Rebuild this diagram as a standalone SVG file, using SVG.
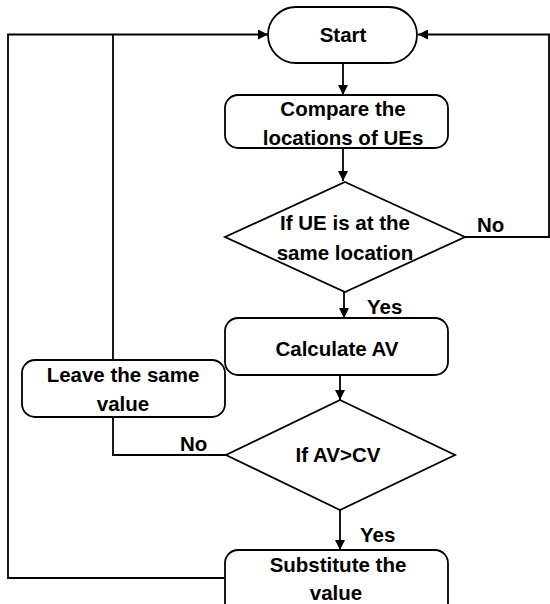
<svg xmlns="http://www.w3.org/2000/svg" width="550" height="604" viewBox="0 0 550 604">
<defs>
<marker id="arr" markerWidth="10" markerHeight="10" refX="10" refY="5" orient="auto" markerUnits="userSpaceOnUse">
<path d="M0,0 L10,5 L0,10 Z" fill="#000"/>
</marker>
<style>
.shape{fill:#fff;stroke:#000;stroke-width:1.8}
.line{fill:none;stroke:#000;stroke-width:1.8}
.t{font-family:"Liberation Sans",Arial,sans-serif;font-weight:bold;font-size:20.5px;fill:#000;text-anchor:middle}
.lbl{font-family:"Liberation Sans",Arial,sans-serif;font-weight:bold;font-size:20.5px;fill:#000}
</style>
</defs>
<rect width="550" height="604" fill="#fff"/>
<g id="connectors">
<line class="line" x1="343" y1="63" x2="343" y2="95" marker-end="url(#arr)"/>
<line class="line" x1="343" y1="148" x2="343" y2="181" marker-end="url(#arr)"/>
<line class="line" x1="344" y1="292" x2="344" y2="318" marker-end="url(#arr)"/>
<line class="line" x1="340" y1="375" x2="340" y2="400" marker-end="url(#arr)"/>
<line class="line" x1="340" y1="510" x2="340" y2="550" marker-end="url(#arr)"/>
<polyline class="line" points="465,237 549,237 549,34.5 418,34.5" marker-end="url(#arr)"/>
<polyline class="line" points="226,455 113,455 113,417"/>
<line class="line" x1="113" y1="360" x2="113" y2="34.5"/>
<polyline class="line" points="224,578 8,578 8,34.5 268,34.5" marker-end="url(#arr)"/>
<text class="lbl" x="477" y="232">No</text>
<text class="lbl" x="367" y="314">Yes</text>
<text class="lbl" x="180" y="451">No</text>
<text class="lbl" x="360" y="542">Yes</text>
</g>
<g id="start">
<rect class="shape" x="268" y="7" width="149" height="56" rx="28" ry="28"/>
<text class="t" x="343" y="42">Start</text>
</g>
<g id="compare">
<rect class="shape" x="225" y="95" width="223" height="53" rx="13" ry="13"/>
<text class="t" x="343" y="116">Compare the</text>
<text class="t" x="343" y="145">locations of UEs</text>
</g>
<g id="decision1">
<polygon class="shape" points="345,182 465,237 345,292 225,237"/>
<text class="t" x="345" y="230">If UE is at the</text>
<text class="t" x="345" y="260">same location</text>
</g>
<g id="calculate">
<rect class="shape" x="225" y="318" width="223" height="57" rx="13" ry="13"/>
<text class="t" x="337" y="356">Calculate AV</text>
</g>
<g id="leave">
<rect class="shape" x="22" y="360" width="203" height="57" rx="13" ry="13"/>
<text class="t" x="123" y="382">Leave the same</text>
<text class="t" x="123" y="411">value</text>
</g>
<g id="decision2">
<polygon class="shape" points="340,400 455,455 340,510 226,455"/>
<text class="t" x="338" y="462">If AV&gt;CV</text>
</g>
<g id="substitute">
<rect class="shape" x="225" y="550" width="223" height="66" rx="13" ry="13"/>
<text class="t" x="338" y="572">Substitute the</text>
<text class="t" x="336" y="600">value</text>
</g>
</svg>
